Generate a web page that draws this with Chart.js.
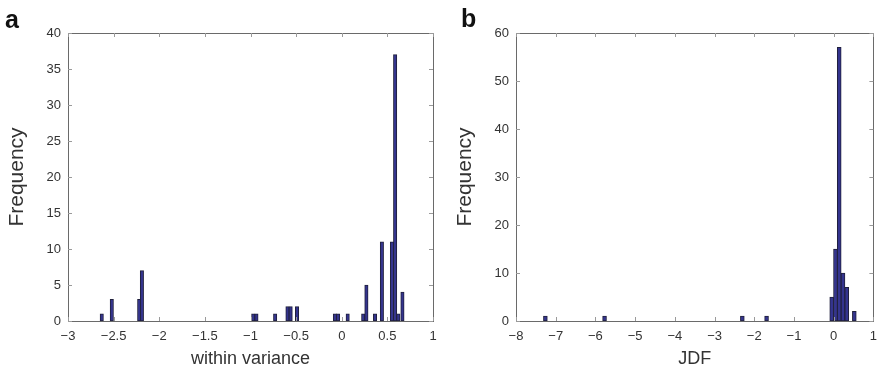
<!DOCTYPE html>
<html>
<head>
<meta charset="utf-8">
<script src="https://cdn.jsdelivr.net/npm/chart.js@4.4.1/dist/chart.umd.min.js"></script>
<style>
  html,body{margin:0;padding:0;background:#fff;}
  #wrap{position:relative;width:885px;height:376px;overflow:hidden;font-family:"Liberation Sans",Arial,sans-serif;}
  .pane{position:absolute;top:0;height:376px;}
  .tag{position:absolute;font-weight:bold;color:#111;font-size:25px;line-height:1;}
</style>
</head>
<body>
<div id="wrap">
  <div class="pane" style="left:0;width:445px"><canvas id="cA" width="445" height="376"></canvas></div>
  <div class="pane" style="left:440px;width:445px"><canvas id="cB" width="445" height="376"></canvas></div>
  <div class="tag" style="left:5px;top:7px">a</div>
  <div class="tag" style="left:461px;top:6px">b</div>
</div>
<script>
/* panel a - histograma de la varianza interna */
const withinX=[-2.63,-2.52,-2.22,-2.19,-0.97,-0.935,-0.73,-0.595,-0.56,-0.49,-0.075,-0.04,0.065,0.235,0.27,0.365,0.44,0.55,0.585,0.62,0.665];
const withinCount=[1,3,3,7,1,1,1,2,2,2,1,1,1,1,5,1,11,11,37,1,4];
const withinXTicks=[-3,-2.5,-2,-1.5,-1,-0.5,0,0.5,1];
const withinYTicks=[0,5,10,15,20,25,30,35,40];

/* panel b - histograma JDF */
const jdfX=[-7.26,-5.77,-2.30,-1.69,-0.05,0.045,0.14,0.235,0.33,0.52];
const jdfCount=[1,1,1,1,5,15,57,10,7,2];
const jdfXTicks=[-8,-7,-6,-5,-4,-3,-2,-1,0,1];
const jdfYTicks=[0,10,20,30,40,50,60];

const FONT='"Liberation Sans", Arial, sans-serif';
const fmt=v=>String(v).replace('-','\u2212');

// caja con marcas hacia adentro (estilo MATLAB)
const boxTicks={id:'boxTicks',afterDraw(ch){
  const {ctx,chartArea:a}=ch, sx=ch.scales.x, sy=ch.scales.y;
  ctx.save(); ctx.strokeStyle='#6a6a6a'; ctx.lineWidth=1;
  ctx.strokeRect(Math.round(a.left)+0.5,Math.round(a.top)+0.5,Math.round(a.right-a.left),Math.round(a.bottom-a.top));
  ctx.strokeStyle='#9a9a9a'; ctx.beginPath();
  sx.ticks.forEach(t=>{const p=Math.round(sx.getPixelForValue(t.value))+0.5;
    ctx.moveTo(p,a.bottom);ctx.lineTo(p,a.bottom-4);ctx.moveTo(p,a.top);ctx.lineTo(p,a.top+4);});
  sy.ticks.forEach(t=>{const p=Math.round(sy.getPixelForValue(t.value))+0.5;
    ctx.moveTo(a.left,p);ctx.lineTo(a.left+4,p);ctx.moveTo(a.right,p);ctx.lineTo(a.right-4,p);});
  ctx.stroke(); ctx.restore();
}};

function makeHist(id,xs,ys,xTicks,yTicks,xTitle,opt){
  const pts=xs.map((x,i)=>({x:x,y:ys[i]}));
  return new Chart(document.getElementById(id),{
    type:'bar',
    data:{datasets:[{data:pts,backgroundColor:'#34348e',borderColor:'#20203c',borderWidth:1,barThickness:opt.bar,borderSkipped:false}]},
    options:{responsive:false,animation:false,
      layout:{padding:{top:33,right:opt.right,left:0,bottom:0}},
      plugins:{legend:{display:false},tooltip:{enabled:false}},
      scales:{
        x:{type:'linear',offset:false,min:xTicks[0],max:xTicks[xTicks.length-1],
          afterBuildTicks:s=>{s.ticks=xTicks.map(v=>({value:v}));},
          afterFit:s=>{s.height=55;},
          grid:{display:false,drawTicks:false},border:{display:false},
          ticks:{color:'#333',font:{family:FONT,size:13},padding:8,maxRotation:0,autoSkip:false,callback:v=>fmt(v)},
          title:{display:true,text:xTitle,color:'#333',font:{family:FONT,size:18},padding:{top:0,bottom:6}}},
        y:{min:yTicks[0],max:yTicks[yTicks.length-1],
          afterBuildTicks:s=>{s.ticks=yTicks.map(v=>({value:v}));},
          afterFit:s=>{s.width=opt.yw;},
          grid:{display:false,drawTicks:false},border:{display:false},
          ticks:{color:'#333',font:{family:FONT,size:13},padding:7,autoSkip:false,callback:v=>fmt(v)},
          title:{display:true,text:'Frequency',color:'#333',font:{family:FONT,size:21},padding:{top:opt.tp,bottom:0}}}
      }},
    plugins:[boxTicks]
  });
}

makeHist('cA',withinX,withinCount,withinXTicks,withinYTicks,'within variance',{bar:3.4,right:12,yw:68,tp:5});
makeHist('cB',jdfX,jdfCount,jdfXTicks,jdfYTicks,'JDF',{bar:3.9,right:2,yw:76,tp:13});
</script>
</body>
</html>
